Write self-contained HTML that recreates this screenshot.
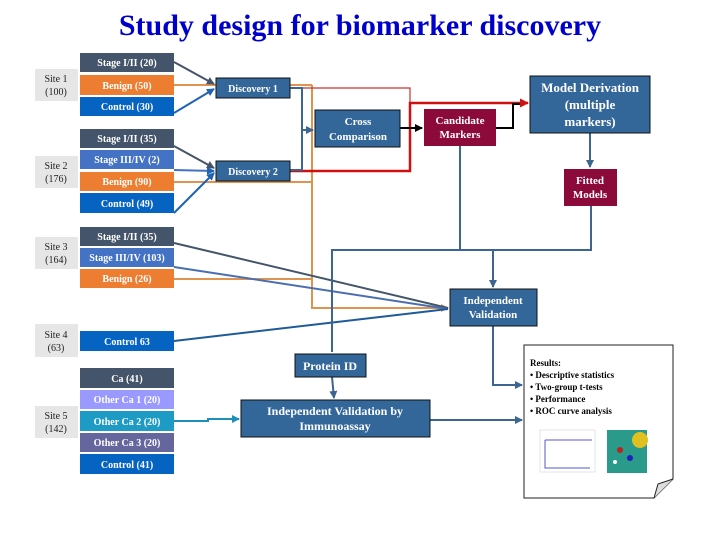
<!DOCTYPE html>
<html><head><meta charset="utf-8"><style>
html,body{margin:0;padding:0;background:#fff;}
svg{display:block;font-family:"Liberation Serif",serif;}
</style></head><body>
<svg width="720" height="540" viewBox="0 0 720 540" xmlns="http://www.w3.org/2000/svg">
<defs>
<marker id="ab" markerWidth="8" markerHeight="8" refX="7" refY="4" orient="auto" markerUnits="userSpaceOnUse"><path d="M0,0 L8,4 L0,8z" fill="#3d6591"/></marker>
<marker id="ad" markerWidth="8" markerHeight="8" refX="7" refY="4" orient="auto" markerUnits="userSpaceOnUse"><path d="M0,0 L8,4 L0,8z" fill="#44546a"/></marker>
<marker id="ac" markerWidth="8" markerHeight="8" refX="7" refY="4" orient="auto" markerUnits="userSpaceOnUse"><path d="M0,0 L8,4 L0,8z" fill="#1f63b5"/></marker>
<marker id="ao" markerWidth="8" markerHeight="8" refX="7" refY="4" orient="auto" markerUnits="userSpaceOnUse"><path d="M0,0 L8,4 L0,8z" fill="#e0924f"/></marker>
<marker id="ar" markerWidth="9" markerHeight="9" refX="8" refY="4.5" orient="auto" markerUnits="userSpaceOnUse"><path d="M0,0 L9,4.5 L0,9z" fill="#d01010"/></marker>
<marker id="ak" markerWidth="8" markerHeight="8" refX="7" refY="4" orient="auto" markerUnits="userSpaceOnUse"><path d="M0,0 L8,4 L0,8z" fill="#000"/></marker>
<marker id="at" markerWidth="8" markerHeight="8" refX="7" refY="4" orient="auto" markerUnits="userSpaceOnUse"><path d="M0,0 L8,4 L0,8z" fill="#1e8fb8"/></marker>
</defs>

<text x="360" y="35" text-anchor="middle" font-size="30" font-weight="bold" fill="#0000cc">Study design for biomarker discovery</text>

<!-- connectors -->
<g fill="none" stroke-width="2">
<!-- orange -->
<path d="M174,85 H312 M174,182 H312 M174,279 H312 M312,85 V308 H448" stroke="#e0924f" marker-end="url(#ao)"/>
<!-- red -->
<path d="M290,88 H410 V103" stroke="#c83030" stroke-width="1.2"/>
<path d="M290,171 H410 V103 H528" stroke="#d01010" stroke-width="2.5" marker-end="url(#ar)"/>
<!-- disc to cross -->
<path d="M290,88 H302 V170 H290 M302,130 H313" stroke="#3d6591" marker-end="url(#ab)"/>
<path d="M400,128 H422" stroke="#000" marker-end="url(#ak)"/>
<path d="M496,128 H513 V104 H520" stroke="#000"/>
<!-- diagonal inputs -->
<path d="M174,62 L214,84" stroke="#44546a" marker-end="url(#ad)"/>
<path d="M174,113 L214,89" stroke="#1f63b5" marker-end="url(#ac)"/>
<path d="M174,146 L214,168" stroke="#44546a" marker-end="url(#ad)"/>
<path d="M174,170 L214,171" stroke="#4472c4" marker-end="url(#ac)"/>
<path d="M174,213 L214,173" stroke="#1f63b5" marker-end="url(#ac)"/>
<path d="M174,243 L448,308" stroke="#44546a"/>
<path d="M174,267 L448,309" stroke="#4a6fb0"/>
<path d="M174,341 L448,309" stroke="#1f5a99"/>
<!-- validation network -->
<path d="M460,146 V250 M591,206 V250 H332 V352 M493,250 V287" stroke="#3d6591" marker-end="url(#ab)"/>
<path d="M590,133 V167" stroke="#3d6591" marker-end="url(#ab)"/>
<path d="M332,377 L334,398" stroke="#3d6591" marker-end="url(#ab)"/>
<path d="M493,326 V385 H522" stroke="#3d6591" marker-end="url(#ab)"/>
<path d="M430,420 H522" stroke="#3d6591" marker-end="url(#ab)"/>
<path d="M174,421 H208 V419 H239" stroke="#1e8fb8" marker-end="url(#at)"/>
</g>

<!-- site labels -->
<g font-size="10" text-anchor="middle" fill="#222">
<rect x="35" y="69" width="43" height="32" fill="#e6e6e6"/><text x="56" y="82">Site 1</text><text x="56" y="95">(100)</text>
<rect x="35" y="156" width="43" height="32" fill="#e6e6e6"/><text x="56" y="169">Site 2</text><text x="56" y="182">(176)</text>
<rect x="35" y="237" width="43" height="32" fill="#e6e6e6"/><text x="56" y="250">Site 3</text><text x="56" y="263">(164)</text>
<rect x="35" y="324" width="43" height="33" fill="#e6e6e6"/><text x="56" y="338">Site 4</text><text x="56" y="351">(63)</text>
<rect x="35" y="406" width="43" height="32" fill="#e6e6e6"/><text x="56" y="419">Site 5</text><text x="56" y="432">(142)</text>
</g>

<!-- cohort boxes -->
<g font-size="10" text-anchor="middle" fill="#fff" font-weight="bold">
<rect x="80" y="53" width="94" height="19" fill="#44546a"/><text x="127" y="66">Stage I/II (20)</text>
<rect x="80" y="75" width="94" height="20" fill="#ed7d31"/><text x="127" y="89">Benign (50)</text>
<rect x="80" y="97" width="94" height="19" fill="#0563c1"/><text x="127" y="110">Control (30)</text>
<rect x="80" y="129" width="94" height="19" fill="#44546a"/><text x="127" y="142">Stage I/II (35)</text>
<rect x="80" y="150" width="94" height="19" fill="#4472c4"/><text x="127" y="163">Stage III/IV (2)</text>
<rect x="80" y="172" width="94" height="19" fill="#ed7d31"/><text x="127" y="185">Benign (90)</text>
<rect x="80" y="193" width="94" height="20" fill="#0563c1"/><text x="127" y="207">Control (49)</text>
<rect x="80" y="227" width="94" height="19" fill="#44546a"/><text x="127" y="240">Stage I/II (35)</text>
<rect x="80" y="248" width="94" height="19" fill="#4472c4"/><text x="127" y="261">Stage III/IV (103)</text>
<rect x="80" y="269" width="94" height="19" fill="#ed7d31"/><text x="127" y="282">Benign (26)</text>
<rect x="80" y="331" width="94" height="20" fill="#0563c1"/><text x="127" y="345">Control 63</text>
<rect x="80" y="368" width="94" height="20" fill="#44546a"/><text x="127" y="382">Ca (41)</text>
<rect x="80" y="390" width="94" height="19" fill="#9999ff"/><text x="127" y="403">Other Ca 1 (20)</text>
<rect x="80" y="411" width="94" height="20" fill="#1e9bc4"/><text x="127" y="425">Other Ca 2 (20)</text>
<rect x="80" y="433" width="94" height="19" fill="#66669e"/><text x="127" y="446">Other Ca 3 (20)</text>
<rect x="80" y="454" width="94" height="20" fill="#0563c1"/><text x="127" y="468">Control (41)</text>
</g>

<!-- process nodes -->
<g stroke="#111" stroke-width="1" font-weight="bold" text-anchor="middle">
<rect x="216" y="78" width="74" height="20" fill="#336699"/>
<rect x="216" y="161" width="74" height="20" fill="#336699"/>
<rect x="315" y="110" width="85" height="37" fill="#336699"/>
<rect x="424" y="109" width="72" height="37" fill="#8b0a3a" stroke="none"/>
<rect x="530" y="76" width="120" height="57" fill="#336699"/>
<rect x="564" y="169" width="53" height="37" fill="#8b0a3a" stroke="none"/>
<rect x="450" y="289" width="87" height="37" fill="#336699"/>
<rect x="295" y="354" width="71" height="23" fill="#336699"/>
<rect x="241" y="400" width="189" height="37" fill="#336699"/>
</g>
<g fill="#fff" font-weight="bold" text-anchor="middle" font-size="11">
<text x="253" y="92" font-size="10">Discovery  1</text>
<text x="253" y="175" font-size="10">Discovery  2</text>
<text x="358" y="125">Cross</text><text x="358" y="140">Comparison</text>
<text x="460" y="124">Candidate</text><text x="460" y="138">Markers</text>
<text x="590" y="92" font-size="13">Model Derivation</text><text x="590" y="109" font-size="13">(multiple</text><text x="590" y="126" font-size="13">markers)</text>
<text x="590" y="184">Fitted</text><text x="590" y="198">Models</text>
<text x="493" y="304">Independent</text><text x="493" y="318">Validation</text>
<text x="330" y="370" font-size="12">Protein ID</text>
<text x="335" y="415" font-size="12">Independent  Validation by</text><text x="335" y="430" font-size="12">Immunoassay</text>
</g>

<!-- results doc -->
<path d="M524,345 H673 V479 L654,498 H524 Z" fill="#fff" stroke="#222" stroke-width="1"/>
<path d="M654,498 L658,484 L673,479" fill="#ddd" stroke="#222" stroke-width="1"/>
<g font-size="9" font-weight="bold" fill="#000">
<text x="530" y="366">Results:</text>
<text x="530" y="378">•  Descriptive statistics</text>
<text x="530" y="390">•  Two-group t-tests</text>
<text x="530" y="402">•  Performance</text>
<text x="530" y="414">•  ROC curve analysis</text>
</g>
<rect x="540" y="430" width="55" height="42" fill="#fff" stroke="#ccc" stroke-width="0.5"/>
<path d="M545,440 H592 M545,440 V468 H590" stroke="#5555cc" stroke-width="1" fill="none"/>
<rect x="607" y="430" width="40" height="43" fill="#2a9a8a"/>
<circle cx="640" cy="440" r="8" fill="#e0c020"/>
<circle cx="620" cy="450" r="3" fill="#c02020"/><circle cx="630" cy="458" r="3" fill="#2020c0"/><circle cx="615" cy="462" r="2" fill="#fff"/>
</svg>
</body></html>
